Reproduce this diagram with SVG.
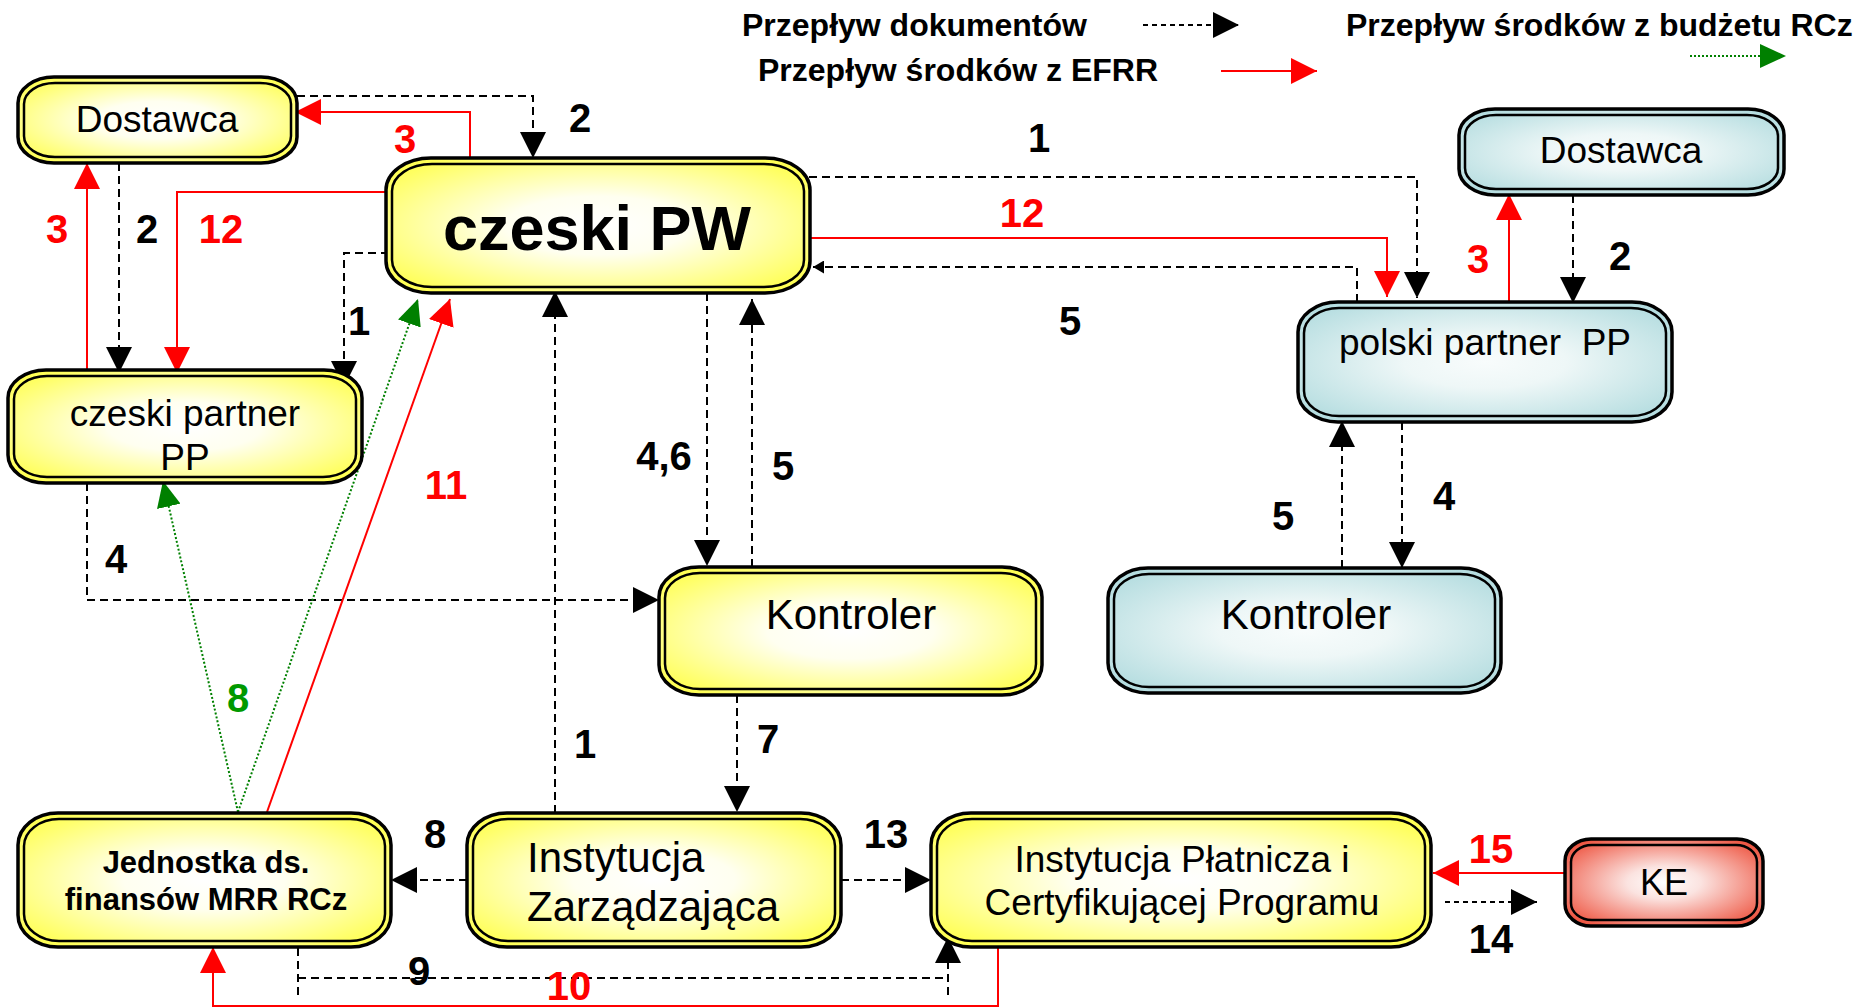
<svg xmlns="http://www.w3.org/2000/svg" width="1858" height="1008" viewBox="0 0 1858 1008">
<defs>
<radialGradient id="gy" cx="0.5" cy="0.5" r="0.62">
<stop offset="0" stop-color="#ffffff"/>
<stop offset="0.35" stop-color="#fffff0"/>
<stop offset="1" stop-color="#ffff55"/>
</radialGradient>
<radialGradient id="gb" cx="0.5" cy="0.5" r="0.62">
<stop offset="0" stop-color="#f8fcfc"/>
<stop offset="0.35" stop-color="#eef7f7"/>
<stop offset="1" stop-color="#b5dde0"/>
</radialGradient>
<radialGradient id="gr" cx="0.5" cy="0.5" r="0.62">
<stop offset="0" stop-color="#ffffff"/>
<stop offset="0.3" stop-color="#fbe3e0"/>
<stop offset="1" stop-color="#ee5440"/>
</radialGradient>
<marker id="ab" markerUnits="userSpaceOnUse" markerWidth="26" markerHeight="26" refX="26" refY="13" orient="auto" viewBox="0 0 26 26"><path d="M0,0 L26,13 L0,26 z" fill="#000"/></marker>
<marker id="abs" markerUnits="userSpaceOnUse" markerWidth="11" markerHeight="13" refX="11" refY="6.5" orient="auto" viewBox="0 0 11 13"><path d="M0,0 L11,6.5 L0,13 z" fill="#000"/></marker>
<marker id="ar" markerUnits="userSpaceOnUse" markerWidth="26" markerHeight="26" refX="26" refY="13" orient="auto" viewBox="0 0 26 26"><path d="M0,0 L26,13 L0,26 z" fill="#ff0000"/></marker>
<marker id="ag" markerUnits="userSpaceOnUse" markerWidth="26" markerHeight="24" refX="26" refY="12" orient="auto" viewBox="0 0 26 24"><path d="M0,0 L26,12 L0,24 z" fill="#008000"/></marker>
<style>
text{font-family:"Liberation Sans",Arial,Helvetica,sans-serif;}
.o{stroke:#000;stroke-width:3.5;}
.i{fill:none;stroke:#000;stroke-width:2.5;}
.y{fill:url(#gy);}
.b{fill:url(#gb);}
.r{fill:url(#gr);}
.nt{font-size:37px;fill:#000;text-anchor:middle;}
.lg{font-size:32px;font-weight:bold;fill:#000;}
.n{font-size:40px;font-weight:bold;text-anchor:middle;}
.k{fill:#000;}
.rd{fill:#ff0000;}
.gn{fill:#009900;}
.d{fill:none;stroke:#000;stroke-width:2;stroke-dasharray:8 5;}
.dl{fill:none;stroke:#000;stroke-width:2;stroke-dasharray:5 4;}
.rl{fill:none;stroke:#ff0000;stroke-width:2;}
.gl{fill:none;stroke:#008000;stroke-width:2;stroke-dasharray:2 2;}
</style>
</defs>
<rect width="1858" height="1008" fill="#fff"/>

<g id="legend">
<text class="lg" x="742" y="36">Przepływ dokumentów</text>
<path class="dl" d="M1143,25 H1239" marker-end="url(#ab)"/>
<text class="lg" x="1346" y="36">Przepływ środków z budżetu RCz</text>
<path class="gl" d="M1690,56 H1786" marker-end="url(#ag)"/>
<text class="lg" x="758" y="81">Przepływ środków z EFRR</text>
<path class="rl" d="M1221,71 H1317" marker-end="url(#ar)"/>
</g>

<g id="connectors">
<path class="d" d="M297,96 H533 V158" marker-end="url(#ab)"/>
<path class="d" d="M119,163 V373" marker-end="url(#ab)"/>
<path class="d" d="M389,253 H344 V387" marker-end="url(#ab)"/>
<path class="d" d="M809,177 H1417 V298" marker-end="url(#ab)"/>
<path class="d" d="M1357,302 V267 H813" marker-end="url(#abs)"/>
<path class="d" d="M1573,195 V303" marker-end="url(#ab)"/>
<path class="d" d="M1402,422 V568" marker-end="url(#ab)"/>
<path class="d" d="M1342,568 V421" marker-end="url(#ab)"/>
<path class="d" d="M707,293 V566" marker-end="url(#ab)"/>
<path class="d" d="M752,567 V299" marker-end="url(#ab)"/>
<path class="d" d="M87,483 V600 H659" marker-end="url(#ab)"/>
<path class="d" d="M555,813 V291" marker-end="url(#ab)"/>
<path class="d" d="M737,695 V812" marker-end="url(#ab)"/>
<path class="d" d="M467,880 H391" marker-end="url(#ab)"/>
<path class="d" d="M841,880 H931" marker-end="url(#ab)"/>
<path class="d" d="M298,948 V995"/>
<path class="d" d="M298,978 H948"/>
<path class="d" d="M948,995 V937" marker-end="url(#ab)"/>
<path class="dl" d="M1445,902 H1537" marker-end="url(#ab)"/>

<path class="rl" d="M470,158 V112 H295" marker-end="url(#ar)"/>
<path class="rl" d="M87,372 V163" marker-end="url(#ar)"/>
<path class="rl" d="M389,192 H177 V373" marker-end="url(#ar)"/>
<path class="rl" d="M811,238 H1387 V297" marker-end="url(#ar)"/>
<path class="rl" d="M1509,303 V194" marker-end="url(#ar)"/>
<path class="rl" d="M267,812 L450,299" marker-end="url(#ar)"/>
<path class="rl" d="M998,947 V1006 H213 V947" marker-end="url(#ar)"/>
<path class="rl" d="M1564,873 H1433" marker-end="url(#ar)"/>

<path class="gl" d="M238,812 L418,299" marker-end="url(#ag)"/>
<path class="gl" d="M238,812 L163,481" marker-end="url(#ag)"/>

<text class="n k" x="580" y="132">2</text>
<text class="n rd" x="405" y="153">3</text>
<text class="n rd" x="57" y="243">3</text>
<text class="n k" x="147" y="243">2</text>
<text class="n rd" x="221" y="243">12</text>
<text class="n k" x="359" y="335">1</text>
<text class="n k" x="1039" y="152">1</text>
<text class="n rd" x="1022" y="227">12</text>
<text class="n k" x="1070" y="335">5</text>
<text class="n rd" x="1478" y="273">3</text>
<text class="n k" x="1620" y="270">2</text>
<text class="n k" x="1283" y="530">5</text>
<text class="n k" x="1444" y="510">4</text>
<text class="n k" x="664" y="470">4,6</text>
<text class="n k" x="783" y="480">5</text>
<text class="n rd" x="446" y="499">11</text>
<text class="n k" x="116" y="573">4</text>
<text class="n gn" x="238" y="712">8</text>
<text class="n k" x="585" y="758">1</text>
<text class="n k" x="768" y="753">7</text>
<text class="n k" x="435" y="848">8</text>
<text class="n k" x="886" y="848">13</text>
<text class="n k" x="419" y="985">9</text>
<text class="n rd" x="569" y="1000">10</text>
<text class="n rd" x="1491" y="863">15</text>
<text class="n k" x="1491" y="953">14</text>
</g>

<g id="dostawca-cz">
<rect class="o y" x="18" y="77" width="279" height="86" rx="36" ry="26"/>
<rect class="i" x="24" y="83" width="267" height="74" rx="31" ry="21"/>
<text class="nt" x="157" y="132">Dostawca</text>
</g>

<g id="czeski-pw">
<rect class="o y" x="386" y="158" width="424" height="135" rx="45" ry="32"/>
<rect class="i" x="392" y="164" width="412" height="123" rx="40" ry="27"/>
<text x="597" y="250" style="font-size:63px;font-weight:bold;text-anchor:middle;fill:#000">czeski PW</text>
</g>

<g id="czeski-partner">
<rect class="o y" x="8" y="370" width="354" height="113" rx="38" ry="28"/>
<rect class="i" x="14" y="376" width="342" height="101" rx="33" ry="23"/>
<text class="nt" x="185" y="426">czeski partner</text>
<text class="nt" x="185" y="470">PP</text>
</g>

<g id="dostawca-pl">
<rect class="o b" x="1459" y="109" width="325" height="86" rx="36" ry="26"/>
<rect class="i" x="1465" y="115" width="313" height="74" rx="31" ry="21"/>
<text class="nt" x="1621" y="163">Dostawca</text>
</g>

<g id="polski-partner">
<rect class="o b" x="1298" y="302" width="374" height="120" rx="40" ry="30"/>
<rect class="i" x="1304" y="308" width="362" height="108" rx="35" ry="25"/>
<text class="nt" x="1485" y="355">polski partner&#160; PP</text>
</g>

<g id="kontroler-cz">
<rect class="o y" x="659" y="567" width="383" height="128" rx="40" ry="30"/>
<rect class="i" x="665" y="573" width="371" height="116" rx="35" ry="25"/>
<text class="nt" x="851" y="629" style="font-size:42px">Kontroler</text>
</g>

<g id="kontroler-pl">
<rect class="o b" x="1108" y="568" width="393" height="125" rx="40" ry="30"/>
<rect class="i" x="1114" y="574" width="381" height="113" rx="35" ry="25"/>
<text class="nt" x="1306" y="629" style="font-size:42px">Kontroler</text>
</g>

<g id="jednostka">
<rect class="o y" x="18" y="813" width="373" height="134" rx="40" ry="32"/>
<rect class="i" x="24" y="819" width="361" height="122" rx="35" ry="27"/>
<text class="nt" x="206" y="873" style="font-size:31px;font-weight:bold">Jednostka ds.</text>
<text class="nt" x="206" y="910" style="font-size:31px;font-weight:bold">finansów MRR RCz</text>
</g>

<g id="instytucja-zarzadzajaca">
<rect class="o y" x="467" y="813" width="374" height="134" rx="40" ry="32"/>
<rect class="i" x="473" y="819" width="362" height="122" rx="35" ry="27"/>
<text x="527" y="872" style="font-size:42px;fill:#000">Instytucja</text>
<text x="527" y="921" style="font-size:42px;fill:#000">Zarządzająca</text>
</g>

<g id="instytucja-platnicza">
<rect class="o y" x="931" y="813" width="500" height="134" rx="40" ry="32"/>
<rect class="i" x="937" y="819" width="488" height="122" rx="35" ry="27"/>
<text class="nt" x="1182" y="872">Instytucja Płatnicza i</text>
<text class="nt" x="1182" y="915">Certyfikującej Programu</text>
</g>

<g id="ke">
<rect class="o r" x="1565" y="839" width="198" height="87" rx="26" ry="22"/>
<rect class="i" x="1571" y="845" width="186" height="75" rx="21" ry="17"/>
<text class="nt" x="1664" y="895" style="font-size:36px">KE</text>
</g>
</svg>
